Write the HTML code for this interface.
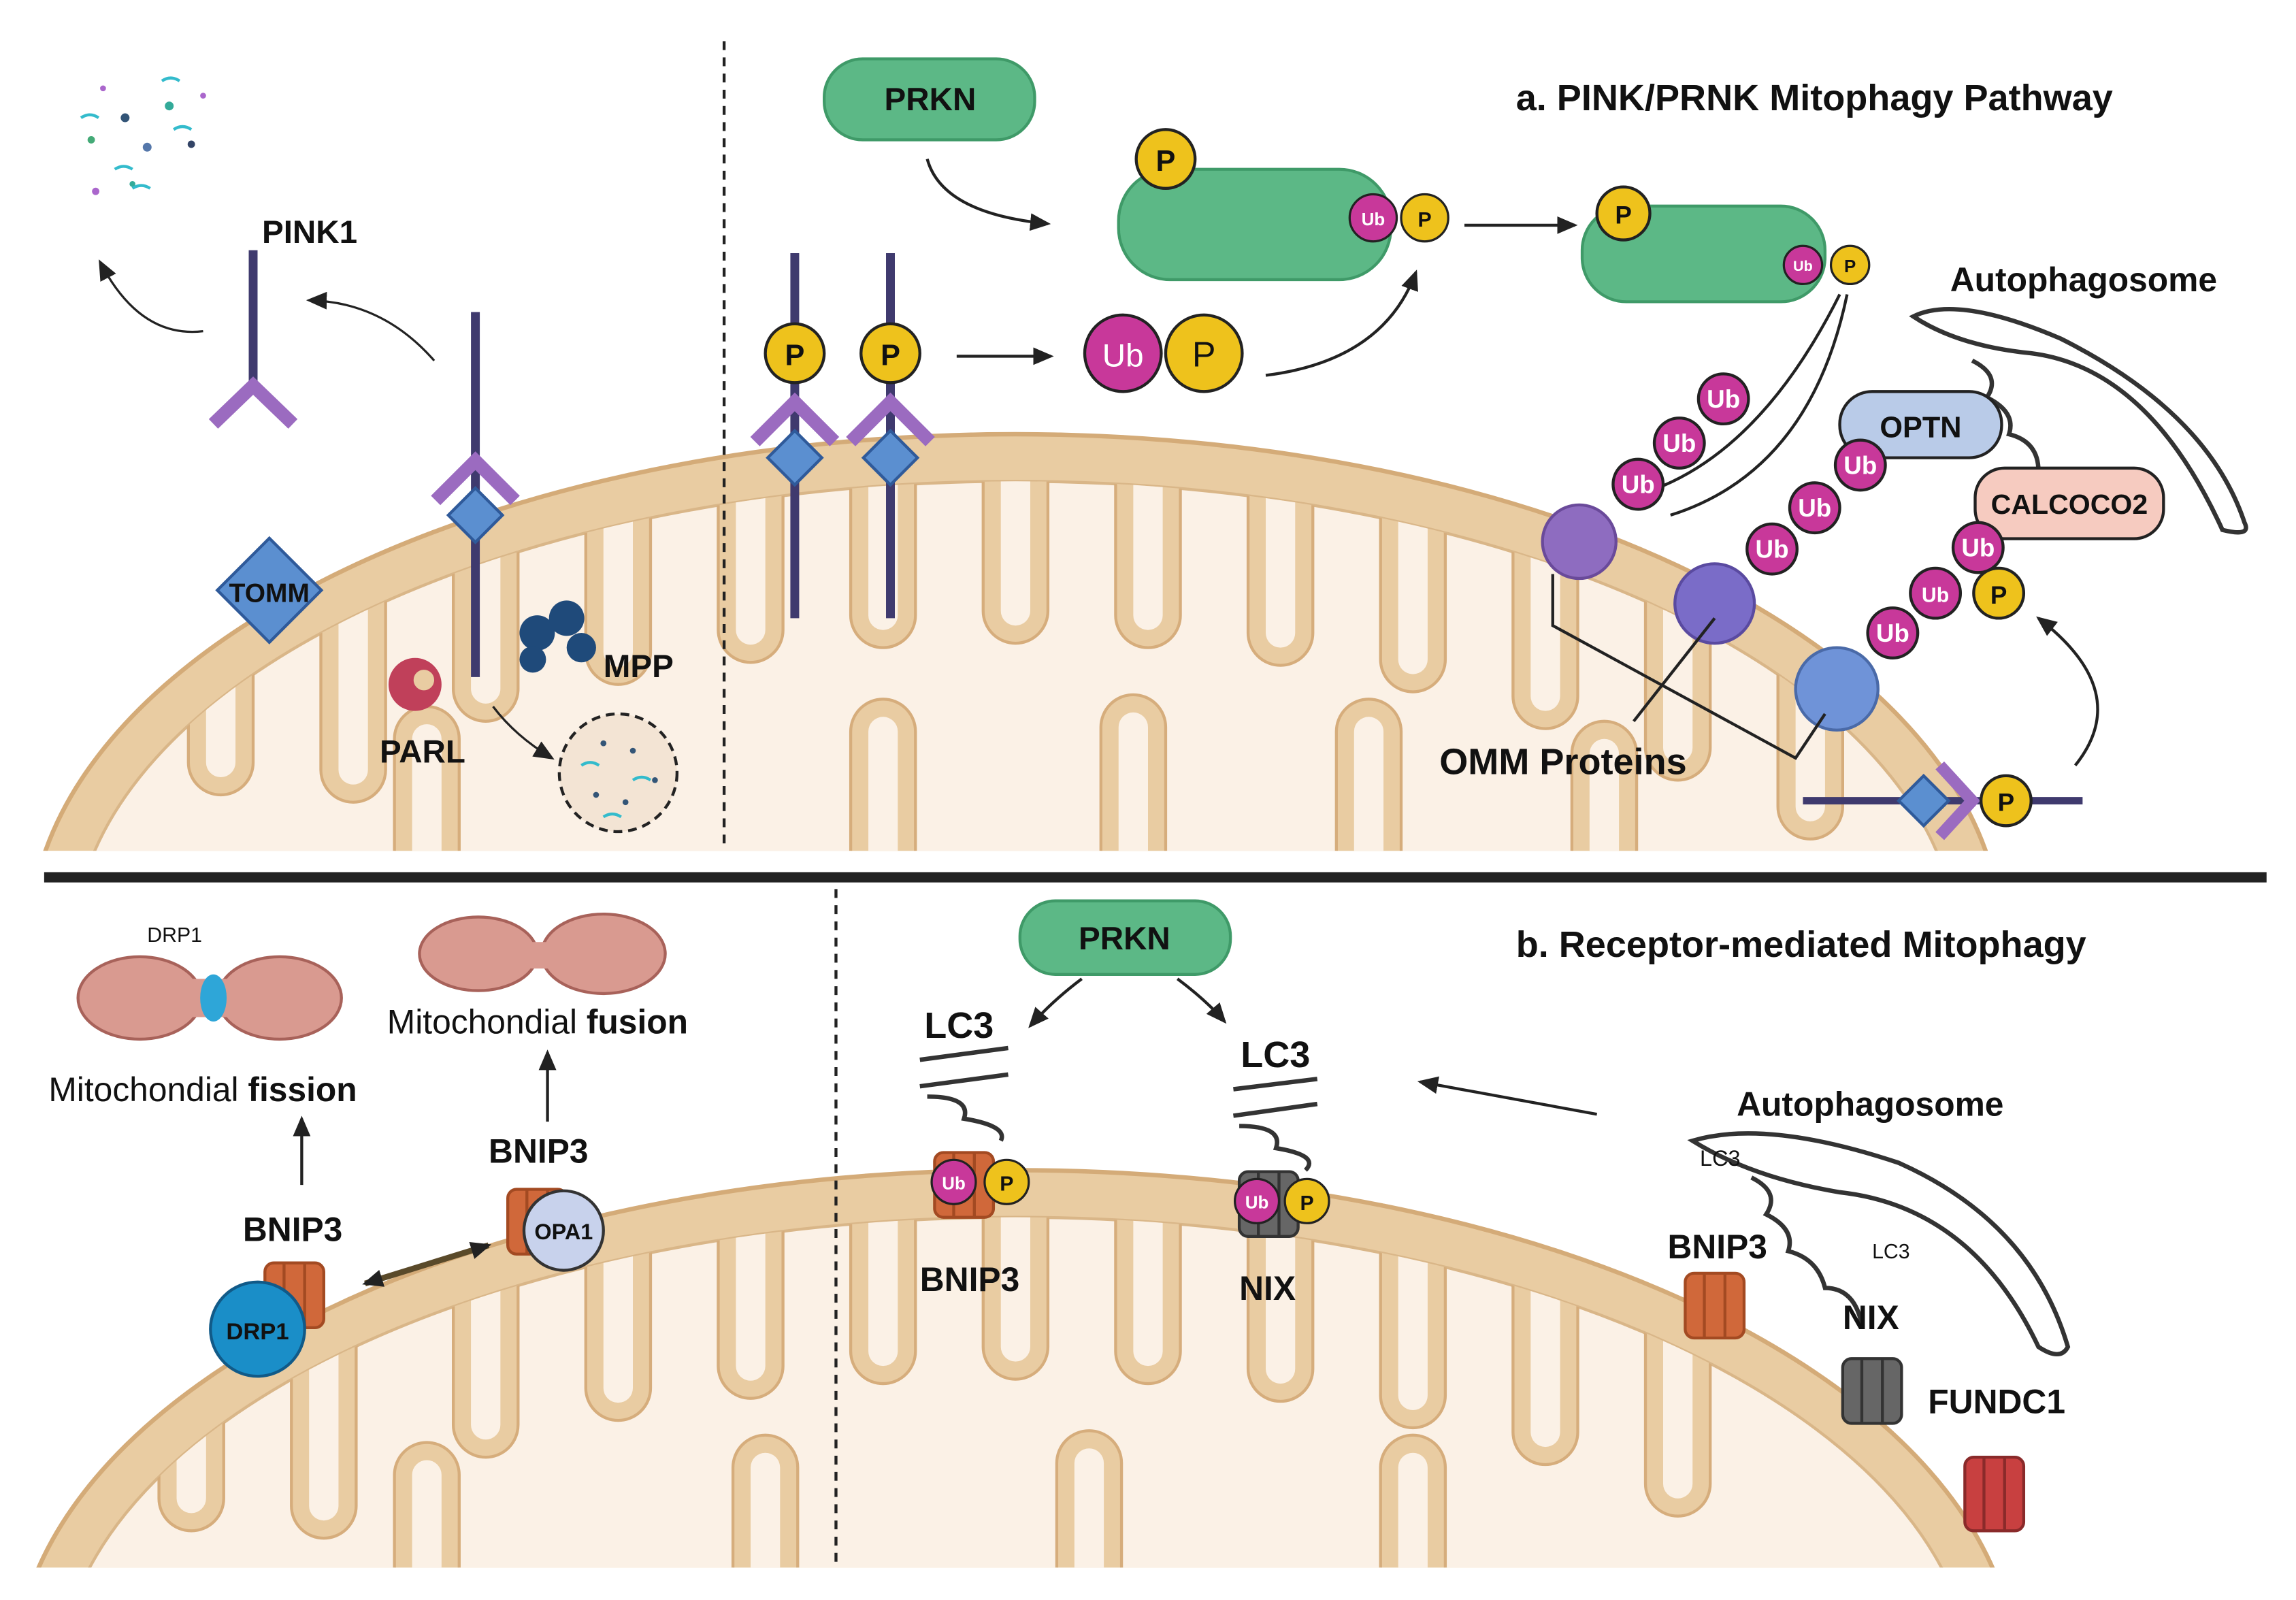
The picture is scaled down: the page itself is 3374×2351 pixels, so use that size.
<!DOCTYPE html>
<html><head><meta charset="utf-8"><style>
html,body{margin:0;padding:0;background:#fff;width:3374px;height:2351px;overflow:hidden}
svg{display:block;position:absolute;left:0;top:0}
text{font-family:"Liberation Sans",sans-serif;font-weight:bold;fill:#111}
</style></head><body>
<svg width="3374" height="2351" viewBox="0 0 1560 1087" preserveAspectRatio="none">
<defs>
<clipPath id="c1"><rect x="0" y="0" width="1560" height="578"/></clipPath>
<clipPath id="c2"><rect x="0" y="600" width="1560" height="465"/></clipPath>
<clipPath id="i1"><ellipse cx="690" cy="645" rx="640" ry="318"/></clipPath>
<clipPath id="i2"><ellipse cx="690" cy="1145" rx="650" ry="318"/></clipPath>
<g id="bnip">
<rect x="-20" y="-22" width="40" height="44" rx="6" fill="#d0683a" stroke="#a34a22" stroke-width="2"/>
<line x1="-7" y1="-22" x2="-7" y2="22" stroke="#a34a22" stroke-width="2"/>
<line x1="7" y1="-22" x2="7" y2="22" stroke="#a34a22" stroke-width="2"/>
</g>
<g id="nix">
<rect x="-20" y="-22" width="40" height="44" rx="6" fill="#666" stroke="#333" stroke-width="2"/>
<line x1="-7" y1="-22" x2="-7" y2="22" stroke="#333" stroke-width="2"/>
<line x1="7" y1="-22" x2="7" y2="22" stroke="#333" stroke-width="2"/>
</g>
<marker id="ar" markerUnits="userSpaceOnUse" markerWidth="14" markerHeight="12" refX="12" refY="6" orient="auto"><path d="M0,0 L14,6 L0,12 z" fill="#222"/></marker>
<marker id="ar2" markerUnits="userSpaceOnUse" markerWidth="14" markerHeight="12" refX="2" refY="6" orient="auto"><path d="M14,0 L0,6 L14,12 z" fill="#222"/></marker>
</defs>

<!-- Top mitochondrion -->
<g clip-path="url(#c1)">
<ellipse cx="690" cy="640" rx="670" ry="345" fill="#e9cca2" stroke="#d4ab78" stroke-width="3"/>
<ellipse cx="690" cy="645" rx="640" ry="318" fill="#fbf1e6" stroke="#d9b688" stroke-width="2"/>
<g clip-path="url(#i1)" stroke="#d6ad7c" stroke-width="2">
<g fill="#e9cca2">
<rect x="128" y="250" width="44" height="290" rx="22"/><rect x="218" y="250" width="44" height="295" rx="22"/>
<rect x="308" y="250" width="44" height="240" rx="22"/><rect x="398" y="250" width="44" height="215" rx="22"/>
<rect x="488" y="250" width="44" height="200" rx="22"/><rect x="578" y="250" width="44" height="190" rx="22"/>
<rect x="668" y="250" width="44" height="187" rx="22"/><rect x="758" y="250" width="44" height="190" rx="22"/>
<rect x="848" y="250" width="44" height="202" rx="22"/><rect x="938" y="250" width="44" height="220" rx="22"/>
<rect x="1028" y="250" width="44" height="245" rx="22"/><rect x="1118" y="250" width="44" height="280" rx="22"/>
<rect x="1208" y="250" width="44" height="320" rx="22"/>
<rect x="268" y="480" width="44" height="200" rx="22"/><rect x="578" y="475" width="44" height="200" rx="22"/>
<rect x="748" y="472" width="44" height="200" rx="22"/><rect x="908" y="475" width="44" height="200" rx="22"/><rect x="1068" y="490" width="44" height="200" rx="22"/>
</g>
<g fill="#fbf1e6" stroke="none">
<rect x="140" y="250" width="20" height="278" rx="10"/><rect x="230" y="250" width="20" height="283" rx="10"/>
<rect x="320" y="250" width="20" height="228" rx="10"/><rect x="410" y="250" width="20" height="203" rx="10"/>
<rect x="500" y="250" width="20" height="188" rx="10"/><rect x="590" y="250" width="20" height="178" rx="10"/>
<rect x="680" y="250" width="20" height="175" rx="10"/><rect x="770" y="250" width="20" height="178" rx="10"/>
<rect x="860" y="250" width="20" height="190" rx="10"/><rect x="950" y="250" width="20" height="208" rx="10"/>
<rect x="1040" y="250" width="20" height="233" rx="10"/><rect x="1130" y="250" width="20" height="268" rx="10"/>
<rect x="1220" y="250" width="20" height="308" rx="10"/>
<rect x="280" y="492" width="20" height="200" rx="10"/><rect x="590" y="487" width="20" height="200" rx="10"/>
<rect x="760" y="484" width="20" height="200" rx="10"/><rect x="920" y="487" width="20" height="200" rx="10"/><rect x="1080" y="502" width="20" height="200" rx="10"/>
</g>
</g>
</g>
<!-- Bottom mitochondrion -->
<g clip-path="url(#c2)">
<ellipse cx="690" cy="1140" rx="680" ry="345" fill="#e9cca2" stroke="#d4ab78" stroke-width="3"/>
<ellipse cx="690" cy="1145" rx="650" ry="318" fill="#fbf1e6" stroke="#d9b688" stroke-width="2"/>
<g clip-path="url(#i2)" stroke="#d6ad7c" stroke-width="2">
<g fill="#e9cca2">
<rect x="108" y="750" width="44" height="290" rx="22"/><rect x="198" y="750" width="44" height="295" rx="22"/>
<rect x="308" y="750" width="44" height="240" rx="22"/><rect x="398" y="750" width="44" height="215" rx="22"/>
<rect x="488" y="750" width="44" height="200" rx="22"/><rect x="578" y="750" width="44" height="190" rx="22"/>
<rect x="668" y="750" width="44" height="187" rx="22"/><rect x="758" y="750" width="44" height="190" rx="22"/>
<rect x="848" y="750" width="44" height="202" rx="22"/><rect x="938" y="750" width="44" height="220" rx="22"/>
<rect x="1028" y="750" width="44" height="245" rx="22"/><rect x="1118" y="750" width="44" height="280" rx="22"/>
<rect x="268" y="980" width="44" height="200" rx="22"/><rect x="498" y="975" width="44" height="200" rx="22"/>
<rect x="718" y="972" width="44" height="200" rx="22"/><rect x="938" y="975" width="44" height="200" rx="22"/>
</g>
<g fill="#fbf1e6" stroke="none">
<rect x="120" y="750" width="20" height="278" rx="10"/><rect x="210" y="750" width="20" height="283" rx="10"/>
<rect x="320" y="750" width="20" height="228" rx="10"/><rect x="410" y="750" width="20" height="203" rx="10"/>
<rect x="500" y="750" width="20" height="188" rx="10"/><rect x="590" y="750" width="20" height="178" rx="10"/>
<rect x="680" y="750" width="20" height="175" rx="10"/><rect x="770" y="750" width="20" height="178" rx="10"/>
<rect x="860" y="750" width="20" height="190" rx="10"/><rect x="950" y="750" width="20" height="208" rx="10"/>
<rect x="1040" y="750" width="20" height="233" rx="10"/><rect x="1130" y="750" width="20" height="268" rx="10"/>
<rect x="280" y="992" width="20" height="200" rx="10"/><rect x="510" y="987" width="20" height="200" rx="10"/>
<rect x="730" y="984" width="20" height="200" rx="10"/><rect x="950" y="987" width="20" height="200" rx="10"/>
</g>
</g>
</g>

<!-- dividers -->
<line x1="30" y1="596" x2="1540" y2="596" stroke="#222" stroke-width="7"/>
<line x1="492" y1="28" x2="492" y2="578" stroke="#222" stroke-width="2" stroke-dasharray="6,5"/>
<line x1="568" y1="604" x2="568" y2="1065" stroke="#222" stroke-width="2" stroke-dasharray="6,5"/>

<!-- ===== Panel a left ===== -->
<circle cx="62" cy="95" r="2.5" fill="#4a7"/><circle cx="85" cy="80" r="3" fill="#357"/><circle cx="70" cy="60" r="2" fill="#a6c"/>
<circle cx="100" cy="100" r="3" fill="#57a"/><circle cx="115" cy="72" r="3" fill="#3a9"/><circle cx="130" cy="98" r="2.5" fill="#346"/>
<circle cx="65" cy="130" r="2.5" fill="#a6c"/><circle cx="90" cy="125" r="2" fill="#3a9"/><circle cx="138" cy="65" r="2" fill="#a6c"/>
<path d="M55,80 q6,-4 12,0 M78,115 q6,-4 12,0 M110,55 q6,-4 12,0 M118,88 q6,-4 12,0 M90,128 q6,-4 12,0" stroke="#3bc" stroke-width="2" fill="none"/>
<text x="178" y="165" font-size="22">PINK1</text>
<line x1="172" y1="170" x2="172" y2="262" stroke="#3f3a6e" stroke-width="6"/>
<path d="M145,288 L172,262 L199,288" stroke="#9b6bc0" stroke-width="9" fill="none"/>
<path d="M138,225 Q95,230 68,178" stroke="#222" stroke-width="1.5" fill="none" marker-end="url(#ar)"/>
<path d="M295,245 Q260,205 210,204" stroke="#222" stroke-width="1.5" fill="none" marker-end="url(#ar)"/>
<line x1="323" y1="212" x2="323" y2="460" stroke="#3f3a6e" stroke-width="6"/>
<path d="M296,340 L323,313 L350,340" stroke="#9b6bc0" stroke-width="9" fill="none"/>
<rect x="310" y="337" width="26" height="26" fill="#5b8fd0" stroke="#2f5a9a" stroke-width="2" transform="rotate(45 323 350)"/>
<rect x="158" y="376" width="50" height="50" fill="#5b8fd0" stroke="#2f5a9a" stroke-width="2" transform="rotate(45 183 401)"/>
<text x="183" y="409" font-size="18" text-anchor="middle">TOMM</text>
<circle cx="282" cy="465" r="18" fill="#c0405a"/><circle cx="288" cy="462" r="7" fill="#e9cca2"/>
<text x="258" y="518" font-size="22">PARL</text>
<g fill="#1f4a7a"><circle cx="365" cy="430" r="12"/><circle cx="385" cy="420" r="12"/><circle cx="395" cy="440" r="10"/><circle cx="362" cy="448" r="9"/></g>
<text x="410" y="460" font-size="22">MPP</text>
<path d="M335,480 Q350,500 375,515" stroke="#222" stroke-width="1.5" fill="none" marker-end="url(#ar)"/>
<circle cx="420" cy="525" r="40" fill="#f3e4d4" stroke="#222" stroke-width="2" stroke-dasharray="6,4"/>
<g fill="#357"><circle cx="410" cy="505" r="2"/><circle cx="430" cy="510" r="2"/><circle cx="445" cy="530" r="2"/><circle cx="405" cy="540" r="2"/><circle cx="425" cy="545" r="2"/></g>
<path d="M395,520 q6,-4 12,0 M430,530 q6,-4 12,0 M410,555 q6,-4 12,0" stroke="#3bc" stroke-width="2" fill="none"/>

<!-- ===== Panel a right ===== -->
<text x="1030" y="75" font-size="25">a. PINK/PRNK Mitophagy Pathway</text>
<rect x="560" y="40" width="143" height="55" rx="26" fill="#5cb886" stroke="#3f9a68" stroke-width="2"/>
<text x="632" y="75" font-size="22" text-anchor="middle">PRKN</text>
<path d="M630,108 Q640,145 712,152" stroke="#222" stroke-width="2" fill="none" marker-end="url(#ar)"/>
<rect x="760" y="115" width="185" height="75" rx="35" fill="#5cb886" stroke="#3f9a68" stroke-width="2"/>
<circle cx="792" cy="108" r="20" fill="#eec21c" stroke="#222" stroke-width="2"/><text x="792" y="116" font-size="20" text-anchor="middle">P</text>
<circle cx="933" cy="148" r="16" fill="#c8389a" stroke="#222" stroke-width="1.5"/><text x="933" y="153" font-size="12" text-anchor="middle" style="fill:#fff">Ub</text>
<circle cx="968" cy="148" r="16" fill="#eec21c" stroke="#222" stroke-width="1.5"/><text x="968" y="154" font-size="14" text-anchor="middle">P</text>
<line x1="995" y1="153" x2="1070" y2="153" stroke="#222" stroke-width="2" marker-end="url(#ar)"/>
<rect x="1075" y="140" width="165" height="65" rx="30" fill="#5cb886" stroke="#3f9a68" stroke-width="2"/>
<circle cx="1103" cy="145" r="18" fill="#eec21c" stroke="#222" stroke-width="2"/><text x="1103" y="152" font-size="17" text-anchor="middle">P</text>
<circle cx="1225" cy="180" r="13" fill="#c8389a" stroke="#222" stroke-width="1.5"/><text x="1225" y="184" font-size="10" text-anchor="middle" style="fill:#fff">Ub</text>
<circle cx="1257" cy="180" r="13" fill="#eec21c" stroke="#222" stroke-width="1.5"/><text x="1257" y="185" font-size="12" text-anchor="middle">P</text>
<g stroke="#3f3a6e" stroke-width="6"><line x1="540" y1="172" x2="540" y2="420"/><line x1="605" y1="172" x2="605" y2="420"/></g>
<path d="M513,300 L540,273 L567,300 M578,300 L605,273 L632,300" stroke="#9b6bc0" stroke-width="9" fill="none"/>
<rect x="527" y="298" width="26" height="26" fill="#5b8fd0" stroke="#2f5a9a" stroke-width="2" transform="rotate(45 540 311)"/>
<rect x="592" y="298" width="26" height="26" fill="#5b8fd0" stroke="#2f5a9a" stroke-width="2" transform="rotate(45 605 311)"/>
<circle cx="540" cy="240" r="20" fill="#eec21c" stroke="#222" stroke-width="2"/><text x="540" y="248" font-size="20" text-anchor="middle">P</text>
<circle cx="605" cy="240" r="20" fill="#eec21c" stroke="#222" stroke-width="2"/><text x="605" y="248" font-size="20" text-anchor="middle">P</text>
<line x1="650" y1="242" x2="714" y2="242" stroke="#222" stroke-width="2" marker-end="url(#ar)"/>
<circle cx="763" cy="240" r="26" fill="#c8389a" stroke="#222" stroke-width="2"/><text x="763" y="249" font-size="22" text-anchor="middle" style="fill:#fff;font-weight:normal">Ub</text>
<circle cx="818" cy="240" r="26" fill="#eec21c" stroke="#222" stroke-width="2"/><text x="818" y="249" font-size="24" text-anchor="middle" style="font-weight:normal">P</text>
<path d="M860,255 Q940,245 962,185" stroke="#222" stroke-width="2" fill="none" marker-end="url(#ar)"/>
<!-- autophagosome -->
<text x="1325" y="198" font-size="23">Autophagosome</text>
<path d="M1300,215 Q1330,200 1400,230 Q1500,280 1525,355 Q1530,365 1510,360 Q1460,250 1380,240 Q1330,235 1300,215 z" fill="#fff" stroke="#333" stroke-width="3"/>
<path d="M1340,245 q20,10 10,25 q20,10 15,25 q20,5 20,25 q20,0 25,20" stroke="#333" stroke-width="3" fill="none"/>
<rect x="1250" y="266" width="110" height="45" rx="22" fill="#b9cbe8" stroke="#222" stroke-width="2"/>
<text x="1305" y="297" font-size="20" text-anchor="middle">OPTN</text>
<rect x="1342" y="318" width="128" height="48" rx="20" fill="#f6cbc0" stroke="#222" stroke-width="2"/>
<text x="1406" y="349" font-size="19" text-anchor="middle">CALCOCO2</text>
<g fill="#c8389a" stroke="#222" stroke-width="2">
<circle cx="1113" cy="329" r="17"/><circle cx="1141" cy="301" r="17"/><circle cx="1171" cy="271" r="17"/>
<circle cx="1204" cy="373" r="17"/><circle cx="1233" cy="345" r="17"/><circle cx="1264" cy="316" r="17"/>
<circle cx="1286" cy="430" r="17"/><circle cx="1315" cy="403" r="17"/><circle cx="1344" cy="372" r="17"/>
</g>
<g font-size="17" text-anchor="middle">
<text x="1113" y="335" style="fill:#fff">Ub</text><text x="1141" y="307" style="fill:#fff">Ub</text><text x="1171" y="277" style="fill:#fff">Ub</text>
<text x="1204" y="379" style="fill:#fff">Ub</text><text x="1233" y="351" style="fill:#fff">Ub</text><text x="1264" y="322" style="fill:#fff">Ub</text>
<text x="1286" y="436" style="fill:#fff">Ub</text><text x="1315" y="409" font-size="14" style="fill:#fff">Ub</text><text x="1344" y="378" style="fill:#fff">Ub</text>
</g>
<circle cx="1358" cy="403" r="17" fill="#eec21c" stroke="#222" stroke-width="2"/><text x="1358" y="410" font-size="17" text-anchor="middle">P</text>
<path d="M1130,330 Q1200,300 1250,200 M1135,350 Q1230,320 1255,200" stroke="#222" stroke-width="2" fill="none"/>
<g stroke-width="2"><circle cx="1073" cy="368" r="25" fill="#8e6cc0" stroke="#6a4a9a"/><circle cx="1165" cy="410" r="27" fill="#7a6cc8" stroke="#5a4aa0"/><circle cx="1248" cy="468" r="28" fill="#6f93d8" stroke="#4a6aa8"/></g>
<path d="M1055,390 L1055,425 L1220,515 L1240,485 M1110,490 L1165,420" stroke="#222" stroke-width="2" fill="none"/>
<text x="978" y="526" font-size="25">OMM Proteins</text>
<line x1="1225" y1="544" x2="1415" y2="544" stroke="#3f3a6e" stroke-width="5"/>
<path d="M1318,520 L1340,544 L1318,568" stroke="#9b6bc0" stroke-width="8" fill="none"/>
<rect x="1295" y="532" width="24" height="24" fill="#5b8fd0" stroke="#2f5a9a" stroke-width="2" transform="rotate(45 1307 544)"/>
<circle cx="1363" cy="544" r="17" fill="#eec21c" stroke="#222" stroke-width="2"/><text x="1363" y="551" font-size="17" text-anchor="middle">P</text>
<path d="M1410,520 Q1450,470 1385,420" stroke="#222" stroke-width="2" fill="none" marker-end="url(#ar)"/>

<!-- ===== Panel b left ===== -->
<text x="100" y="640" font-size="14" style="font-weight:normal">DRP1</text>
<ellipse cx="95" cy="678" rx="42" ry="28" fill="#d99a90" stroke="#a8625a" stroke-width="2"/>
<ellipse cx="190" cy="678" rx="42" ry="28" fill="#d99a90" stroke="#a8625a" stroke-width="2"/>
<rect x="112" y="665" width="66" height="26" fill="#d99a90"/>
<ellipse cx="145" cy="678" rx="9" ry="16" fill="#2ea6d8"/>
<ellipse cx="325" cy="648" rx="40" ry="25" fill="#d99a90" stroke="#a8625a" stroke-width="2"/>
<ellipse cx="410" cy="648" rx="42" ry="27" fill="#d99a90" stroke="#a8625a" stroke-width="2"/>
<rect x="345" y="640" width="50" height="18" fill="#d99a90"/>
<text x="33" y="748" font-size="23" style="font-weight:normal">Mitochondial <tspan style="font-weight:bold">fission</tspan></text>
<text x="263" y="702" font-size="23" style="font-weight:normal">Mitochondial <tspan style="font-weight:bold">fusion</tspan></text>
<line x1="205" y1="805" x2="205" y2="760" stroke="#222" stroke-width="2" marker-end="url(#ar)"/>
<line x1="372" y1="762" x2="372" y2="715" stroke="#222" stroke-width="2" marker-end="url(#ar)"/>
<text x="165" y="843" font-size="23">BNIP3</text>
<text x="332" y="790" font-size="23">BNIP3</text>
<use href="#bnip" x="200" y="880"/>
<use href="#bnip" x="365" y="830"/>
<circle cx="175" cy="903" r="32" fill="#1a8ec8" stroke="#115a88" stroke-width="2"/><text x="175" y="910" font-size="16" text-anchor="middle">DRP1</text>
<circle cx="383" cy="836" r="27" fill="#c8d2ec" stroke="#333" stroke-width="2"/><text x="383" y="842" font-size="15" text-anchor="middle">OPA1</text>
<line x1="248" y1="872" x2="332" y2="846" stroke="#5a4a2a" stroke-width="4" marker-end="url(#ar)" marker-start="url(#ar2)"/>

<!-- ===== Panel b right ===== -->
<text x="1030" y="650" font-size="25">b. Receptor-mediated Mitophagy</text>
<rect x="693" y="612" width="143" height="50" rx="24" fill="#5cb886" stroke="#3f9a68" stroke-width="2"/>
<text x="764" y="645" font-size="22" text-anchor="middle">PRKN</text>
<path d="M735,665 Q715,680 700,697" stroke="#222" stroke-width="2" fill="none" marker-end="url(#ar)"/>
<path d="M800,665 Q820,680 832,694" stroke="#222" stroke-width="2" fill="none" marker-end="url(#ar)"/>
<text x="628" y="705" font-size="25">LC3</text>
<text x="843" y="725" font-size="25">LC3</text>
<path d="M625,720 L685,712 M625,738 L685,730 M838,740 L895,733 M838,758 L895,750" stroke="#333" stroke-width="3"/>
<path d="M630,745 q30,0 25,15 q30,5 25,15 M842,765 q30,0 25,15 q30,5 20,15" stroke="#333" stroke-width="3" fill="none"/>
<use href="#bnip" x="655" y="805"/>
<use href="#nix" x="862" y="818"/>
<circle cx="648" cy="803" r="15" fill="#c8389a" stroke="#222" stroke-width="1.5"/><text x="648" y="808" font-size="12" text-anchor="middle" style="fill:#fff">Ub</text>
<circle cx="684" cy="803" r="15" fill="#eec21c" stroke="#222" stroke-width="1.5"/><text x="684" y="809" font-size="14" text-anchor="middle">P</text>
<circle cx="854" cy="816" r="15" fill="#c8389a" stroke="#222" stroke-width="1.5"/><text x="854" y="821" font-size="12" text-anchor="middle" style="fill:#fff">Ub</text>
<circle cx="888" cy="816" r="15" fill="#eec21c" stroke="#222" stroke-width="1.5"/><text x="888" y="822" font-size="14" text-anchor="middle">P</text>
<text x="625" y="877" font-size="23">BNIP3</text>
<text x="842" y="883" font-size="23">NIX</text>
<line x1="1085" y1="757" x2="965" y2="735" stroke="#222" stroke-width="2" marker-end="url(#ar)"/>
<text x="1180" y="758" font-size="23">Autophagosome</text>
<path d="M1150,775 Q1200,760 1290,790 Q1380,830 1405,915 Q1400,925 1385,915 Q1340,820 1250,810 Q1190,800 1150,775 z" fill="#fff" stroke="#333" stroke-width="3"/>
<path d="M1190,800 q20,10 10,25 q20,10 15,25 q20,5 25,25 q20,0 25,25" stroke="#333" stroke-width="3" fill="none"/>
<text x="1155" y="792" font-size="15" style="font-weight:normal">LC3</text>
<text x="1272" y="855" font-size="14" style="font-weight:normal">LC3</text>
<text x="1133" y="855" font-size="23">BNIP3</text>
<use href="#bnip" x="1165" y="887"/>
<text x="1252" y="903" font-size="23">NIX</text>
<use href="#nix" x="1272" y="945"/>
<text x="1310" y="960" font-size="23">FUNDC1</text>
<g transform="translate(1355,1015)"><rect x="-20" y="-25" width="40" height="50" rx="6" fill="#c84040" stroke="#8a2a2a" stroke-width="2"/><line x1="-7" y1="-25" x2="-7" y2="25" stroke="#8a2a2a" stroke-width="2"/><line x1="7" y1="-25" x2="7" y2="25" stroke="#8a2a2a" stroke-width="2"/></g>
</svg>
</body></html>
